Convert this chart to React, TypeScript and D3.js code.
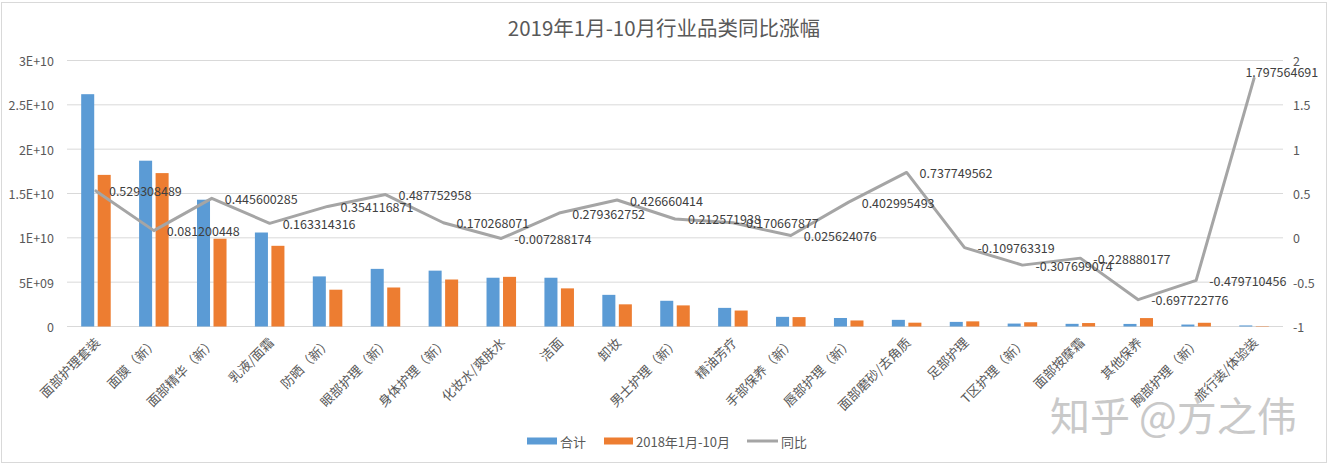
import React from "react";
import * as d3 from "d3";

const categories = [
  "面部护理套装", "面膜（新）", "面部精华（新）", "乳液/面霜", "防晒（新）", "眼部护理（新）",
  "身体护理（新）", "化妆水/爽肤水", "洁面", "卸妆", "男士护理（新）", "精油芳疗",
  "手部保养（新）", "唇部护理（新）", "面部磨砂/去角质", "足部护理", "T区护理（新）",
  "面部按摩霜", "其他保养", "胸部护理（新）", "旅行装/体验装",
];

// 合计 (in units of 1e9)
const totalSeries = [26.2, 18.7, 14.3, 10.6, 5.65, 6.5, 6.3, 5.5, 5.5, 3.57, 2.9, 2.1, 1.09, 0.96, 0.75, 0.52, 0.33, 0.3, 0.29, 0.22, 0.12];
// 2018年1月-10月 (in units of 1e9)
const prevSeries = [17.1, 17.3, 9.9, 9.1, 4.15, 4.4, 5.3, 5.6, 4.3, 2.5, 2.38, 1.8, 1.06, 0.68, 0.43, 0.58, 0.48, 0.39, 0.95, 0.42, 0.045];
// 同比
const yoySeries = [
  0.529308489, 0.081200448, 0.445600285, 0.163314316, 0.354116871, 0.487752958,
  0.170268071, -0.007288174, 0.279362752, 0.426660414, 0.212571938, 0.170667877,
  0.025624076, 0.402995493, 0.737749562, -0.109763319, -0.307699074, -0.228880177,
  -0.697722776, -0.479710456, 1.797564691,
];

const leftTicks = [0, 5e9, 1e10, 1.5e10, 2e10, 2.5e10, 3e10];
const leftTickLabels = ["0", "5E+09", "1E+10", "1.5E+10", "2E+10", "2.5E+10", "3E+10"];
const rightTicks = [-1, -0.5, 0, 0.5, 1, 1.5, 2];
const rightTickLabels = ["-1", "-0.5", "0", "0.5", "1", "1.5", "2"];

const seriesNames = ["合计", "2018年1月-10月", "同比"];
const title = "2019年1月-10月行业品类同比涨幅";

const W = 1327;
const H = 470;
const FONT = "'Noto Sans CJK SC', 'Noto Sans', sans-serif";
const BLUE = "#5B9BD5";
const ORANGE = "#ED7D31";
const GRAY = "#A5A5A5";

export default function App() {
  const left = 67, right = 1283, top = 60.5, bottom = 326.5;
  const x = d3.scaleBand<string>().domain(categories).range([left, right]).padding(0);
  const bw = x.bandwidth();
  const barW = bw * 0.225;
  const gap = bw * 0.06;
  const yL = d3.scaleLinear().domain([0, 3e10]).range([bottom, top]);
  const yR = d3.scaleLinear().domain([-1, 2]).range([bottom, top]);
  const cx = (c: string) => (x(c) as number) + bw / 2;

  const line = d3
    .line<number>()
    .x((_, i) => cx(categories[i]))
    .y((v) => yR(v));

  const labelFs = 12.5;
  const approxW = (s: string) => s.length * labelFs * 0.55;

  return (
    <svg width={W} height={H} style={{ position: "absolute", left: 0, top: 0, background: "#fff" }} fontFamily={FONT}>
      <rect x={1.5} y={2.5} width={W - 2} height={460} fill="#fff" stroke="#D9D9D9" />
      <text x={664} y={27} textAnchor="middle" dominantBaseline="central" fontSize={20.5} fill="#595959">
        {title}
      </text>

      {leftTicks.map((t) => (
        <line key={"g" + t} x1={left} x2={right} y1={yL(t)} y2={yL(t)} stroke="#D9D9D9" strokeWidth={1} />
      ))}
      {leftTicks.map((t, i) => (
        <text key={"lt" + t} x={54} y={yL(t)} textAnchor="end" dominantBaseline="central" fontSize={12.5} fill="#595959">
          {leftTickLabels[i]}
        </text>
      ))}
      {rightTicks.map((t, i) => (
        <text key={"rt" + t} x={1293} y={yR(t)} textAnchor="start" dominantBaseline="central" fontSize={12.5} fill="#595959">
          {rightTickLabels[i]}
        </text>
      ))}

      {categories.map((c, i) => (
        <g key={"b" + c}>
          <rect x={cx(c) - gap / 2 - barW} y={yL(totalSeries[i] * 1e9)} width={barW} height={bottom - yL(totalSeries[i] * 1e9)} fill={BLUE} />
          <rect x={cx(c) + gap / 2} y={yL(prevSeries[i] * 1e9)} width={barW} height={bottom - yL(prevSeries[i] * 1e9)} fill={ORANGE} />
        </g>
      ))}

      <path d={line(yoySeries) || ""} fill="none" stroke={GRAY} strokeWidth={3} strokeLinejoin="round" strokeLinecap="round" />

      {yoySeries.map((v, i) => {
        const s = String(v);
        let lx = cx(categories[i]) + 13;
        let ly = yR(v);
        const w = approxW(s);
        if (lx + w > W - 6) {
          lx = W - 6 - w;
          ly = ly - 7;
        }
        return (
          <text key={"dl" + i} x={lx} y={ly} dominantBaseline="central" fontSize={labelFs} fill="#404040">
            {s}
          </text>
        );
      })}

      {categories.map((c) => (
        <text
          key={"xl" + c}
          transform={`translate(${cx(c) + 5},${bottom + 17}) rotate(-45)`}
          textAnchor="end"
          fontSize={13}
          fill="#595959"
        >
          {c}
        </text>
      ))}

      <g fontSize={13} fill="#595959">
        <rect x={527} y={437.5} width={30} height={7} fill={BLUE} />
        <text x={560} y={441} dominantBaseline="central">{seriesNames[0]}</text>
        <rect x={604} y={437.5} width={29} height={7} fill={ORANGE} />
        <text x={636} y={441} dominantBaseline="central">{seriesNames[1]}</text>
        <line x1={747} x2={778} y1={441} y2={441} stroke={GRAY} strokeWidth={3} />
        <text x={781} y={441} dominantBaseline="central">{seriesNames[2]}</text>
      </g>

      <text x={1050} y={431} fontSize={40} fill="#c4c4c4" opacity={0.9}>知乎 @方之伟</text>
    </svg>
  );
}
